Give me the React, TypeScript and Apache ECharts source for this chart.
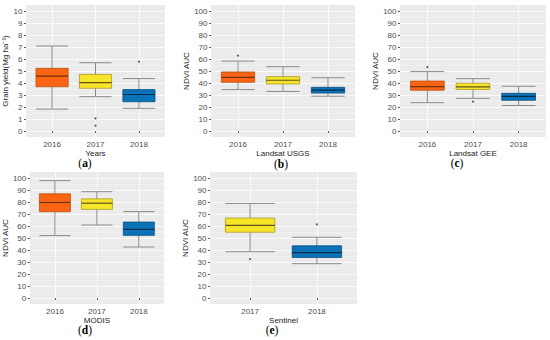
import React, { useEffect, useRef } from "react";
import * as echarts from "echarts";

// ---- data (box stats: [lower whisker, Q1, median, Q3, upper whisker]) ----
const yearsABCD = ["2016", "2017", "2018"];
const yearsE = ["2017", "2018"];

const grainYieldStats = [
  [1.83, 3.69, 4.58, 5.22, 7.08],
  [2.86, 3.56, 4.03, 4.72, 5.69],
  [1.89, 2.44, 3.04, 3.45, 4.37],
];
const grainYieldOutliers = [
  ["2017", 1.06],
  ["2017", 0.44],
  ["2018", 5.78],
];

const usgsStats = [
  [34.5, 40.6, 44.7, 49.2, 58.3],
  [33, 39.2, 42.3, 45.3, 53.6],
  [29, 31.6, 34.1, 36.4, 44.4],
];
const usgsOutliers = [["2016", 62.8]];

const geeStats = [
  [23.6, 34, 37, 41.6, 49.5],
  [27.2, 34.6, 36.7, 39.8, 43.6],
  [21.2, 25.6, 28.9, 31.4, 37.3],
];
const geeOutliers = [
  ["2016", 53.3],
  ["2017", 24.4],
];

const modisStats = [
  [52, 71.9, 79.6, 86.8, 97.8],
  [60.8, 73.9, 79, 82.6, 88.6],
  [42.5, 52.2, 57.2, 63.3, 72],
];
const modisOutliers: (string | number)[][] = [];

const sentinelStats = [
  [38.6, 54.8, 60.6, 66.6, 78.8],
  [28.6, 33.8, 37.8, 43.5, 50.6],
];
const sentinelOutliers = [
  ["2017", 32.4],
  ["2018", 61.4],
];

const grainTicks = [0, 1, 2, 3, 4, 5, 6, 7, 8, 9, 10];
const ndviTicks = [0, 10, 20, 30, 40, 50, 60, 70, 80, 90, 100];

const yearFill: Record<string, string> = {
  "2016": "#fa6412",
  "2017": "#f7e52a",
  "2018": "#0a72b8",
};
const yearBorder: Record<string, string> = {
  "2016": "#b8500f",
  "2017": "#a89b24",
  "2018": "#0b4f82",
};
const yearMedian: Record<string, string> = {
  "2016": "#6e3310",
  "2017": "#5e5418",
  "2018": "#0a2c4a",
};

const BOX_W = 0.74;
const SANS = "'Liberation Sans', Arial, Helvetica, sans-serif";
const SERIF = "'Liberation Serif', 'Times New Roman', serif";

type Panel = {
  years: string[];
  stats: number[][];
  outliers: (string | number)[][];
  ticks: number[];
  yName: string;
  xName: string;
  grid: { left: number; top: number; width: number; height: number };
  yNameGap: number;
  caption: string;
  capX: number;
  capY: number;
};

const panels: Panel[] = [
  {
    years: yearsABCD, stats: grainYieldStats, outliers: grainYieldOutliers, ticks: grainTicks,
    yName: "Grain yield(Mg ha⁻¹)", xName: "Years",
    grid: { left: 26, top: 5, width: 139, height: 132 }, yNameGap: 14,
    caption: "a", capX: 85, capY: 163,
  },
  {
    years: yearsABCD, stats: usgsStats, outliers: usgsOutliers, ticks: ndviTicks,
    yName: "NDVI AUC", xName: "Landsat USGS",
    grid: { left: 211, top: 5, width: 144, height: 132 }, yNameGap: 15,
    caption: "b", capX: 281, capY: 164,
  },
  {
    years: yearsABCD, stats: geeStats, outliers: geeOutliers, ticks: ndviTicks,
    yName: "NDVI AUC", xName: "Landsat GEE",
    grid: { left: 400, top: 5, width: 146, height: 132 }, yNameGap: 15,
    caption: "c", capX: 457, capY: 163,
  },
  {
    years: yearsABCD, stats: modisStats, outliers: modisOutliers, ticks: ndviTicks,
    yName: "NDVI AUC", xName: "MODIS",
    grid: { left: 26, top: 172, width: 138, height: 132 }, yNameGap: 15,
    caption: "d", capX: 85, capY: 330,
  },
  {
    years: yearsE, stats: sentinelStats, outliers: sentinelOutliers, ticks: ndviTicks,
    yName: "NDVI AUC", xName: "Sentinel",
    grid: { left: 210, top: 172, width: 147, height: 132 }, yNameGap: 16,
    caption: "e", capX: 272, capY: 330,
  },
];

function buildOption() {
  const grids: any[] = [];
  const xAxes: any[] = [];
  const yAxes: any[] = [];
  const series: any[] = [];
  const graphics: any[] = [];

  panels.forEach((p, i) => {
    grids.push({
      ...p.grid,
      show: true,
      backgroundColor: "#ebebeb",
      borderWidth: 0,
      containLabel: false,
    });
    const n = p.years.length;
    const pos = p.years.map((_, k) => k + 1);
    xAxes.push({
      gridIndex: i,
      type: "value",
      min: 0.4,
      max: n + 0.6,
      name: p.xName,
      nameLocation: "middle",
      nameGap: 10,
      nameTextStyle: { color: "#1a1a1a", fontSize: 8, fontFamily: SANS },
      axisLine: { show: false },
      axisTick: { show: true, length: 2, lineStyle: { color: "#555" }, customValues: pos },
      axisLabel: {
        show: true,
        customValues: pos,
        margin: 3.5,
        color: "#4d4d4d",
        fontSize: 8,
        fontFamily: SANS,
        formatter: (v: number) => p.years[Math.round(v) - 1] ?? "",
      },
      splitLine: { show: true, lineStyle: { color: "#fbfbfb", width: 1 } },
    });
    const step = p.ticks[1] - p.ticks[0];
    const lo = p.ticks[0] - step / 2;
    const hi = p.ticks[p.ticks.length - 1] + step / 2;
    const halfTicks = p.ticks.slice(0, -1).map((t) => t + step / 2);
    yAxes.push({
      gridIndex: i,
      type: "value",
      min: lo,
      max: hi,
      name: p.yName,
      nameLocation: "middle",
      nameGap: p.yNameGap,
      nameTextStyle: { color: "#1a1a1a", fontSize: 8, fontFamily: SANS },
      axisLine: { show: false },
      axisTick: { show: true, length: 2, lineStyle: { color: "#555" }, customValues: p.ticks },
      axisLabel: {
        show: true,
        customValues: p.ticks,
        margin: 3.5,
        color: "#4d4d4d",
        fontSize: 8,
        fontFamily: SANS,
      },
      splitLine: { show: true, lineStyle: { color: "#fbfbfb", width: 1 } },
    });
    const minorIndex = yAxes.length;
    yAxes.push({
      gridIndex: i,
      type: "value",
      min: lo,
      max: hi,
      position: "right",
      axisLine: { show: false },
      axisTick: { show: false, customValues: halfTicks },
      axisLabel: { show: false },
      splitLine: { show: true, lineStyle: { color: "#f4f4f4", width: 0.5 } },
    });

    const boxData = p.stats.map((s, k) => [k + 1, ...s]);
    series.push({
      type: "custom",
      xAxisIndex: i,
      yAxisIndex: minorIndex - 1,
      data: boxData,
      clip: false,
      renderItem: (params: any, api: any) => {
        const x = api.value(0);
        const year = p.years[params.dataIndex];
        const w = api.size([BOX_W, 0])[0];
        const pLo = api.coord([x, api.value(1)]);
        const pQ1 = api.coord([x, api.value(2)]);
        const pMed = api.coord([x, api.value(3)]);
        const pQ3 = api.coord([x, api.value(4)]);
        const pHi = api.coord([x, api.value(5)]);
        const cx = pMed[0];
        const wh = { stroke: "#8a8a8a", lineWidth: 1 };
        return {
          type: "group",
          children: [
            { type: "line", shape: { x1: cx, y1: pHi[1], x2: cx, y2: pLo[1] }, style: wh },
            { type: "line", shape: { x1: cx - w / 2, y1: pHi[1], x2: cx + w / 2, y2: pHi[1] }, style: wh },
            { type: "line", shape: { x1: cx - w / 2, y1: pLo[1], x2: cx + w / 2, y2: pLo[1] }, style: wh },
            {
              type: "rect",
              shape: { x: cx - w / 2, y: pQ3[1], width: w, height: pQ1[1] - pQ3[1] },
              style: { fill: yearFill[year], stroke: yearBorder[year], lineWidth: 0.8 },
            },
            {
              type: "line",
              shape: { x1: cx - w / 2, y1: pMed[1], x2: cx + w / 2, y2: pMed[1] },
              style: { stroke: yearMedian[year], lineWidth: 1.2 },
            },
          ],
        };
      },
    });

    series.push({
      type: "scatter",
      xAxisIndex: i,
      yAxisIndex: minorIndex - 1,
      symbol: "circle",
      symbolSize: 2,
      itemStyle: { color: "#2a2a2a" },
      data: p.outliers.map((o) => [p.years.indexOf(o[0] as string) + 1, o[1]]),
    });

    graphics.push({
      type: "text",
      x: p.capX,
      y: p.capY,
      style: {
        text: "{p|(}{b|" + p.caption + "}{p|)}",
        align: "center",
        verticalAlign: "middle",
        rich: {
          p: { fontFamily: SERIF, fontSize: 11.5, fill: "#000" },
          b: { fontFamily: SERIF, fontSize: 11.5, fontWeight: "bold", fill: "#000" },
        },
      },
    });
  });

  return {
    animation: false,
    backgroundColor: "#ffffff",
    textStyle: { fontFamily: SANS },
    grid: grids,
    xAxis: xAxes,
    yAxis: yAxes,
    series,
    graphic: graphics,
  };
}

export default function App() {
  const ref = useRef<HTMLDivElement>(null);
  useEffect(() => {
    if (!ref.current) return;
    const chart = echarts.init(ref.current, undefined, { renderer: "svg" });
    chart.setOption(buildOption() as any);
    return () => chart.dispose();
  }, []);
  return (
    <div
      ref={ref}
      style={{ position: "absolute", left: 0, top: 0, width: 550, height: 340, background: "#fff" }}
    />
  );
}
